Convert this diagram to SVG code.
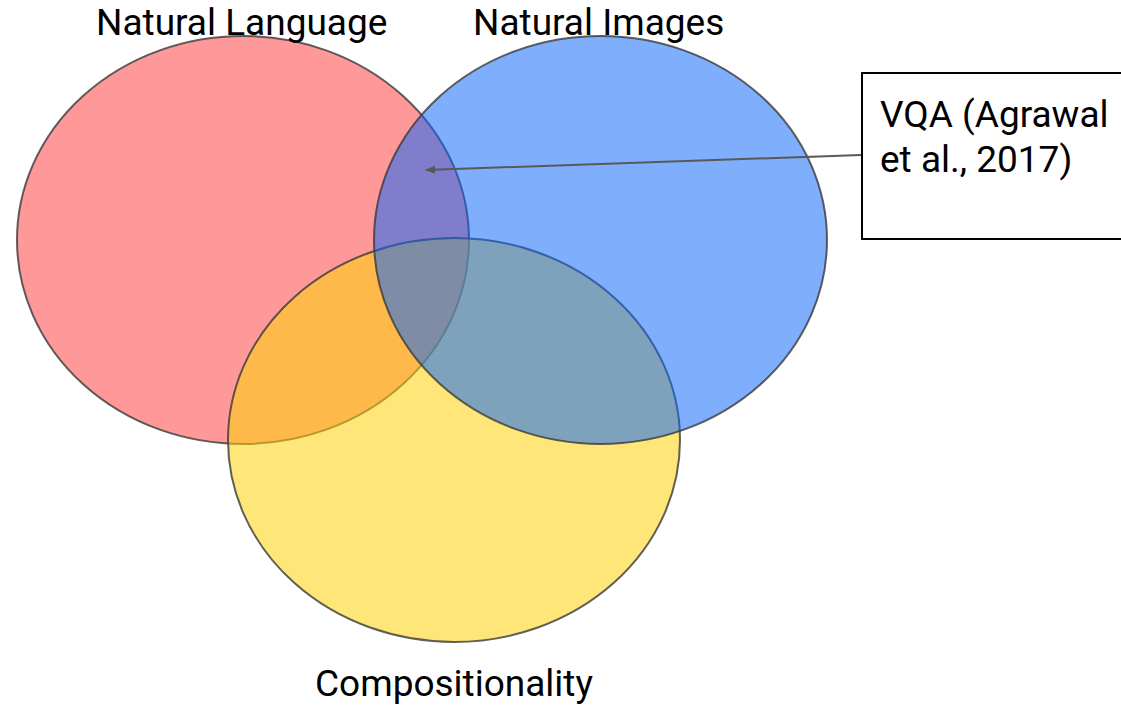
<svg xmlns="http://www.w3.org/2000/svg" width="1121" height="705" viewBox="0 0 1121 705">
<defs>
<style>
.lbl{font-family:Roboto,"Liberation Sans",sans-serif;font-size:37px;fill:#000}
.set{stroke:#3a3a3a;stroke-width:2;stroke-opacity:0.8}
</style>
<marker id="ah" markerWidth="10" markerHeight="8" refX="9" refY="4" orient="auto" markerUnits="userSpaceOnUse">
<path d="M0,0 L10,4 L0,8 Z" fill="#595959"/>
</marker>
</defs>
<rect width="1121" height="705" fill="#fff"/>
<g id="natural-language">
<ellipse class="set" cx="243" cy="240" rx="226" ry="204" fill="#ff0000" fill-opacity="0.4"/>
<text class="lbl" x="96" y="35">Natural Language</text>
</g>
<g id="compositionality">
<ellipse class="set" cx="454" cy="440" rx="226" ry="202" fill="#ffd20a" fill-opacity="0.55"/>
<text class="lbl" x="315" y="696">Compositionality</text>
</g>
<g id="natural-images">
<ellipse class="set" cx="600.5" cy="240" rx="226.5" ry="204" fill="#0963fb" fill-opacity="0.52"/>
<text class="lbl" x="473" y="35">Natural Images</text>
</g>
<g id="vqa">
<rect x="862" y="73" width="270" height="166" fill="#fff" stroke="#000" stroke-width="2"/>
<text class="lbl" x="880" y="127">VQA (Agrawal</text>
<text class="lbl" x="880" y="172">et al., 2017)</text>
</g>
<g id="connectors">
<line x1="861" y1="155" x2="426" y2="170" stroke="#595959" stroke-width="2" marker-end="url(#ah)"/>
</g>
</svg>
